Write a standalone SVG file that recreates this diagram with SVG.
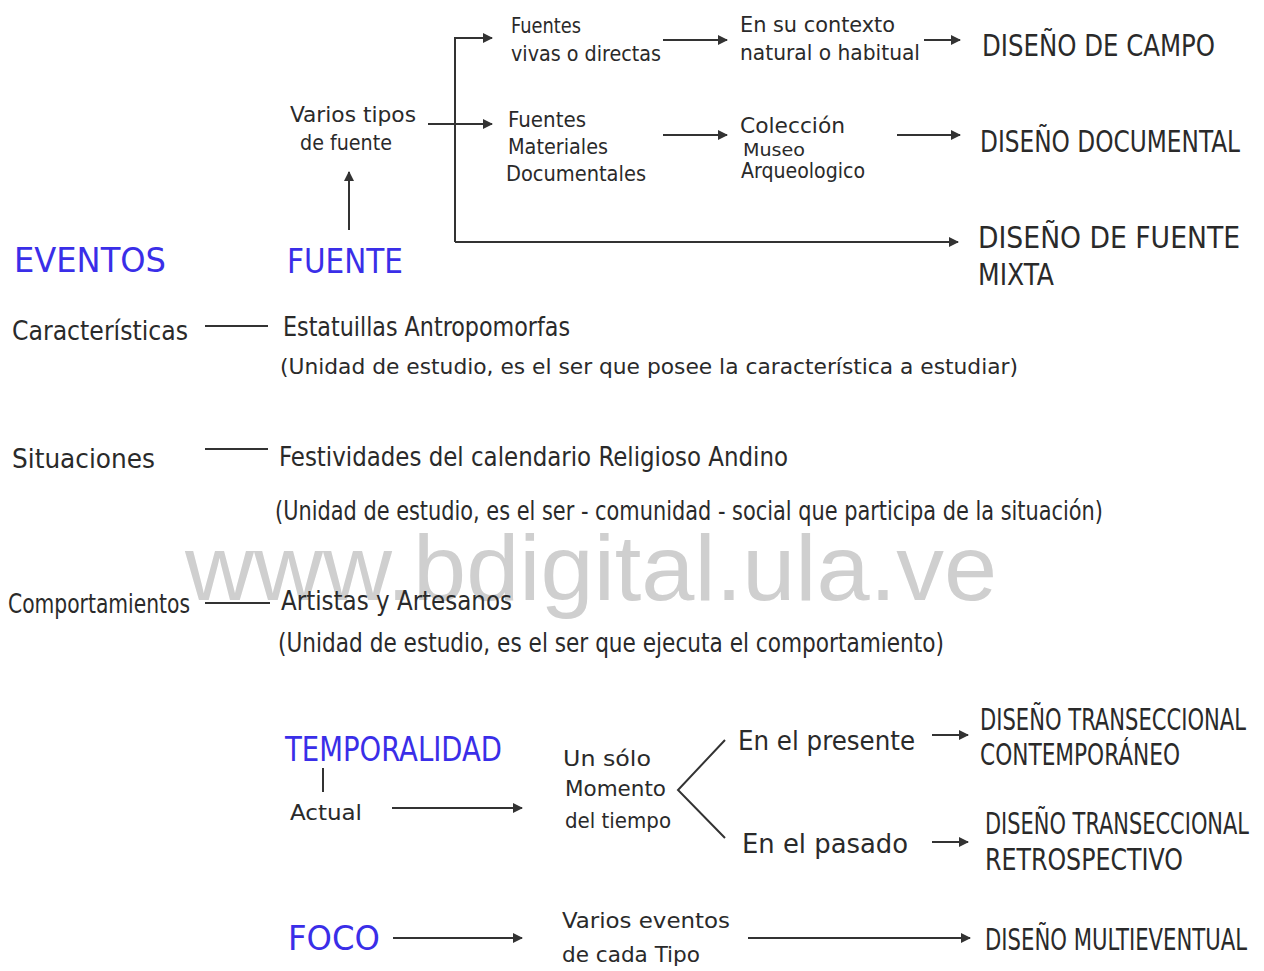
<svg xmlns="http://www.w3.org/2000/svg" width="1264" height="971" viewBox="0 0 1264 971">
<defs>
<marker id="ah" markerWidth="10" markerHeight="10" refX="9" refY="5" orient="auto" markerUnits="userSpaceOnUse">
<path d="M0,0 L10,5 L0,10 Z" fill="#333"/>
</marker>
<style>
text{font-family:"Liberation Sans Narrow","DejaVu Sans Condensed","Liberation Sans",sans-serif;fill:#2a2a2a;font-weight:normal}
.s{font-size:22px}
.m{font-size:26px}
.cap{font-size:30px}
.blue{font-size:34px;fill:#3a2ee8}
.sm{font-size:18px}
.ln{stroke:#333;stroke-width:2;fill:none}
.ar{stroke:#333;stroke-width:2;fill:none;marker-end:url(#ah)}
.wm{font-family:"Liberation Sans",Arial,sans-serif;font-size:92px;fill:#cfcfcf}
</style>
</defs>
<rect width="1264" height="971" fill="#ffffff"/>

<g id="watermark"><text class="wm" x="185" y="600" textLength="812" lengthAdjust="spacingAndGlyphs">www.bdigital.ula.ve</text></g>

<g id="connectors">
<path class="ar" d="M455,242 L455,38 L492,38"/>
<path class="ar" d="M428,124 L492,124"/>
<path class="ar" d="M455,242 L958,242"/>
<path class="ar" d="M663,40 L727,40"/>
<path class="ar" d="M924,40 L960,40"/>
<path class="ar" d="M663,135 L727,135"/>
<path class="ar" d="M897,135 L960,135"/>
<path class="ar" d="M349,230 L349,172"/>
<path class="ln" d="M205,326 L268,326"/>
<path class="ln" d="M205,449 L268,449"/>
<path class="ln" d="M205,603 L270,603"/>
<path class="ln" d="M323,768 L323,792"/>
<path class="ar" d="M392,808 L522,808"/>
<path class="ln" d="M725,740 L678,790 L725,838"/>
<path class="ar" d="M932,735 L968,735"/>
<path class="ar" d="M932,842 L968,842"/>
<path class="ar" d="M393,938 L522,938"/>
<path class="ar" d="M748,938 L970,938"/>
</g>

<g id="fuentes-vivas"><text class="s" x="511" y="33" textLength="70" lengthAdjust="spacingAndGlyphs">Fuentes</text><text class="s" x="511" y="61" textLength="150" lengthAdjust="spacingAndGlyphs">vivas o directas</text></g>
<g id="contexto"><text class="s" x="740" y="32" textLength="155" lengthAdjust="spacingAndGlyphs">En su contexto</text><text class="s" x="740" y="60" textLength="180" lengthAdjust="spacingAndGlyphs">natural o habitual</text></g>
<g id="diseno-campo"><text class="cap" x="982" y="56" textLength="233" lengthAdjust="spacingAndGlyphs">DISEÑO DE CAMPO</text></g>

<g id="varios-tipos"><text class="s" x="290" y="122" textLength="126" lengthAdjust="spacingAndGlyphs">Varios tipos</text><text class="s" x="300" y="150" textLength="92" lengthAdjust="spacingAndGlyphs">de fuente</text></g>
<g id="fuentes-materiales"><text class="s" x="508" y="127" textLength="78" lengthAdjust="spacingAndGlyphs">Fuentes</text><text class="s" x="508" y="154" textLength="100" lengthAdjust="spacingAndGlyphs">Materiales</text><text class="s" x="506" y="181" textLength="140" lengthAdjust="spacingAndGlyphs">Documentales</text></g>
<g id="coleccion"><text class="s" x="740" y="133" textLength="105" lengthAdjust="spacingAndGlyphs">Colección</text><text class="sm" x="743" y="156" textLength="62" lengthAdjust="spacingAndGlyphs">Museo</text><text class="s" x="741" y="178" textLength="124" lengthAdjust="spacingAndGlyphs">Arqueologico</text></g>
<g id="diseno-documental"><text class="cap" x="980" y="152" textLength="260" lengthAdjust="spacingAndGlyphs">DISEÑO DOCUMENTAL</text></g>
<g id="diseno-mixta"><text class="cap" x="978" y="248" textLength="262" lengthAdjust="spacingAndGlyphs">DISEÑO DE FUENTE</text><text class="cap" x="978" y="285" textLength="76" lengthAdjust="spacingAndGlyphs">MIXTA</text></g>

<g id="eventos"><text class="blue" x="14" y="272" textLength="152" lengthAdjust="spacingAndGlyphs">EVENTOS</text></g>
<g id="fuente"><text class="blue" x="287" y="273" textLength="116" lengthAdjust="spacingAndGlyphs">FUENTE</text></g>

<g id="caracteristicas"><text class="m" x="12" y="340" textLength="176" lengthAdjust="spacingAndGlyphs">Características</text></g>
<g id="estatuillas"><text class="m" x="283" y="336" textLength="287" lengthAdjust="spacingAndGlyphs">Estatuillas Antropomorfas</text><text class="s" x="280" y="374" textLength="738" lengthAdjust="spacingAndGlyphs">(Unidad de estudio, es el ser que posee la característica a estudiar)</text></g>

<g id="situaciones"><text class="m" x="12" y="468" textLength="143" lengthAdjust="spacingAndGlyphs">Situaciones</text></g>
<g id="festividades"><text class="m" x="279" y="466" textLength="509" lengthAdjust="spacingAndGlyphs">Festividades del calendario Religioso Andino</text><text class="m" x="275" y="520" textLength="828" lengthAdjust="spacingAndGlyphs">(Unidad de estudio, es el ser - comunidad - social que participa de la situación)</text></g>

<g id="comportamientos"><text class="m" x="8" y="613" textLength="182" lengthAdjust="spacingAndGlyphs">Comportamientos</text></g>
<g id="artistas"><text class="m" x="281" y="610" textLength="231" lengthAdjust="spacingAndGlyphs">Artistas y Artesanos</text><text class="m" x="278" y="652" textLength="666" lengthAdjust="spacingAndGlyphs">(Unidad de estudio, es el ser que ejecuta el comportamiento)</text></g>

<g id="temporalidad"><text class="blue" x="285" y="761" textLength="217" lengthAdjust="spacingAndGlyphs">TEMPORALIDAD</text></g>
<g id="actual"><text class="s" x="290" y="820" textLength="72" lengthAdjust="spacingAndGlyphs">Actual</text></g>
<g id="un-solo"><text class="s" x="563" y="766" textLength="88" lengthAdjust="spacingAndGlyphs">Un sólo</text><text class="s" x="565" y="796" textLength="101" lengthAdjust="spacingAndGlyphs">Momento</text><text class="s" x="565" y="828" textLength="106" lengthAdjust="spacingAndGlyphs">del tiempo</text></g>
<g id="presente"><text class="m" x="738" y="750" textLength="177" lengthAdjust="spacingAndGlyphs">En el presente</text></g>
<g id="pasado"><text class="m" x="742" y="853" textLength="166" lengthAdjust="spacingAndGlyphs">En el pasado</text></g>
<g id="diseno-contemporaneo"><text class="cap" x="980" y="730" textLength="266" lengthAdjust="spacingAndGlyphs">DISEÑO TRANSECCIONAL</text><text class="cap" x="980" y="765" textLength="200" lengthAdjust="spacingAndGlyphs">CONTEMPORÁNEO</text></g>
<g id="diseno-retrospectivo"><text class="cap" x="985" y="834" textLength="264" lengthAdjust="spacingAndGlyphs">DISEÑO TRANSECCIONAL</text><text class="cap" x="985" y="870" textLength="198" lengthAdjust="spacingAndGlyphs">RETROSPECTIVO</text></g>

<g id="foco"><text class="blue" x="288" y="950" textLength="92" lengthAdjust="spacingAndGlyphs">FOCO</text></g>
<g id="varios-eventos"><text class="s" x="562" y="928" textLength="168" lengthAdjust="spacingAndGlyphs">Varios eventos</text><text class="s" x="562" y="962" textLength="138" lengthAdjust="spacingAndGlyphs">de cada Tipo</text></g>
<g id="diseno-multieventual"><text class="cap" x="985" y="950" textLength="262" lengthAdjust="spacingAndGlyphs">DISEÑO MULTIEVENTUAL</text></g>
</svg>
